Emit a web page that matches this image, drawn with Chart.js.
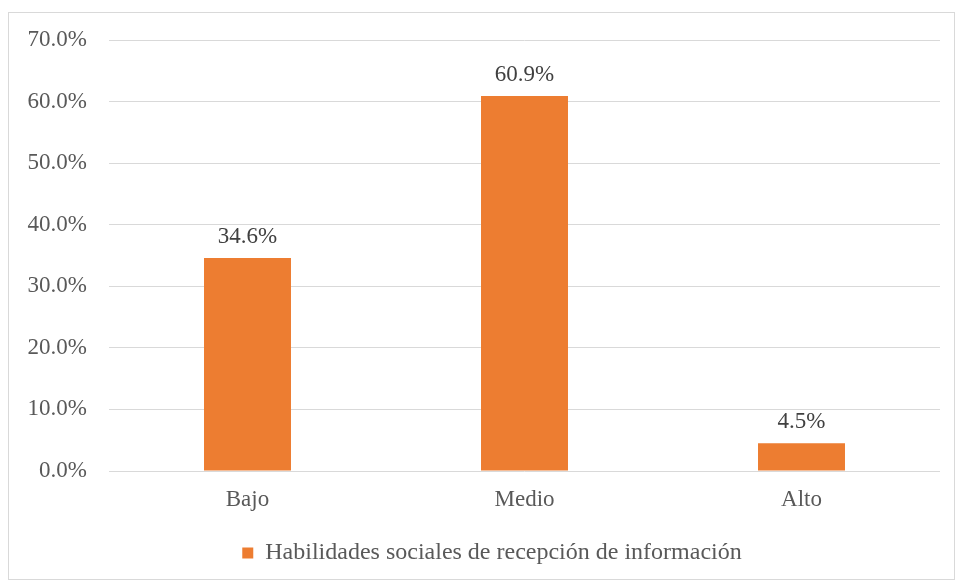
<!DOCTYPE html>
<html>
<head>
<meta charset="utf-8">
<script src="https://cdn.jsdelivr.net/npm/chart.js@4"></script>
<style>
  html, body { margin: 0; padding: 0; background: #fff; }
  #wrap { position: relative; width: 956px; height: 581px; }
</style>
</head>
<body>
<div id="wrap"><canvas id="chart" width="956" height="581"></canvas></div>
<script>
// Chart data
const categories = ['Bajo', 'Medio', 'Alto'];
const seriesName = 'Habilidades sociales de recepción de información';
const seriesValues = [34.6, 60.9, 4.5];
const tickValues = [0, 10, 20, 30, 40, 50, 60, 70];

const FONT = '"Liberation Serif", "Times New Roman", serif';

// Outer frame around the chart
const framePlugin = {
    id: 'frame',
    beforeDraw(chart) {
        const ctx = chart.ctx;
        ctx.save();
        ctx.strokeStyle = '#d9d9d9';
        ctx.lineWidth = 1;
        ctx.strokeRect(8.5, 12.5, 946, 567);
        ctx.restore();
    }
};

// Legend sits a little right of centre in the original
const legendShift = {
    id: 'legendShift',
    afterLayout(chart) {
        chart.legend.left += 22;
        chart.legend.right += 22;
    }
};

// Value labels above the bars
const valueLabels = {
    id: 'valueLabels',
    afterDatasetsDraw(chart) {
        const ctx = chart.ctx;
        const meta = chart.getDatasetMeta(0);
        ctx.save();
        ctx.font = '23px ' + FONT;
        ctx.fillStyle = '#404040';
        ctx.textAlign = 'center';
        ctx.textBaseline = 'bottom';
        meta.data.forEach((bar, i) => {
            ctx.fillText(seriesValues[i].toFixed(1) + '%', bar.x, bar.y - 10);
        });
        ctx.restore();
    }
};

new Chart(document.getElementById('chart'), {
    type: 'bar',
    data: {
        labels: categories,
        datasets: [{
            label: seriesName,
            data: seriesValues,
            backgroundColor: '#ED7D31',
            borderWidth: 0,
            categoryPercentage: 1,
            barPercentage: 0.314
        }]
    },
    options: {
        responsive: false,
        animation: false,
        layout: { padding: { top: 40, right: 16, left: 0, bottom: 6 } },
        scales: {
            x: {
                grid: { display: false },
                border: { display: false },
                ticks: { color: '#595959', font: { family: FONT, size: 23 }, padding: 7 },
                afterFit(scale) { scale.height = 60; }
            },
            y: {
                min: 0,
                max: 70,
                afterBuildTicks(scale) { scale.ticks = tickValues.map(v => ({ value: v })); },
                grid: { color: '#d9d9d9', lineWidth: 1, drawTicks: false },
                border: { display: false },
                ticks: {
                    color: '#595959',
                    font: { family: FONT, size: 23 },
                    padding: 22,
                    callback: v => v.toFixed(1) + '%'
                },
                afterFit(scale) { scale.width = 109; }
            }
        },
        plugins: {
            legend: {
                position: 'bottom',
                labels: {
                    color: '#595959',
                    font: { family: FONT, size: 24 },
                    boxWidth: 11,
                    boxHeight: 11,
                    padding: 10
                }
            },
            tooltip: { enabled: false }
        }
    },
    plugins: [framePlugin, legendShift, valueLabels]
});
</script>
</body>
</html>
